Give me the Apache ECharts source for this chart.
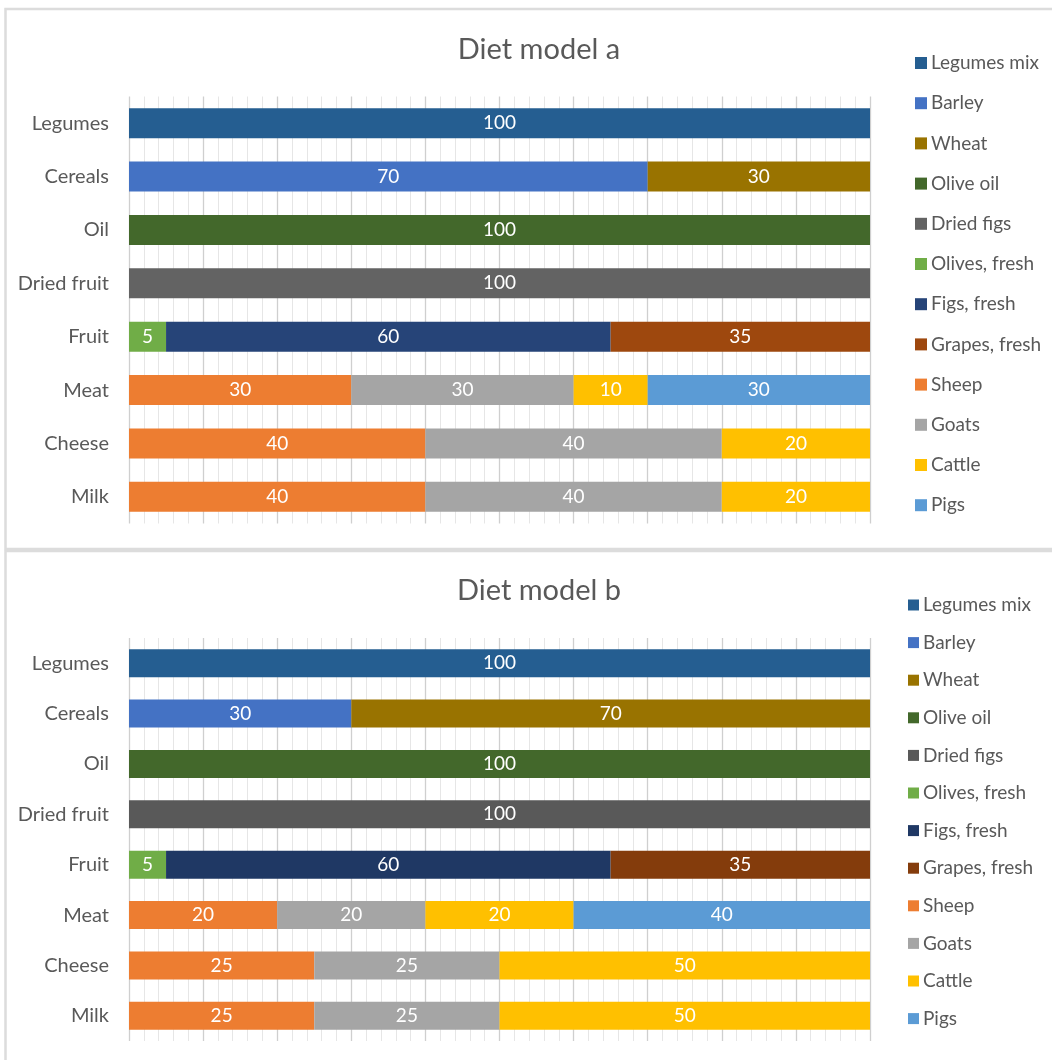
<!DOCTYPE html>
<html>
<head>
<meta charset="utf-8">
<script src="https://cdn.jsdelivr.net/npm/echarts@6/dist/echarts.min.js"></script>
<style>html,body{margin:0;padding:0;background:#fff;}#c{width:1052px;height:1060px;}</style>
</head>
<body>
<div id="c"></div>
<script>
const categories = ['Legumes', 'Cereals', 'Oil', 'Dried fruit', 'Fruit', 'Meat', 'Cheese', 'Milk'];
const seriesNames = ['Legumes mix', 'Barley', 'Wheat', 'Olive oil', 'Dried figs', 'Olives, fresh', 'Figs, fresh', 'Grapes, fresh', 'Sheep', 'Goats', 'Cattle', 'Pigs'];
const titles = ['Diet model a', 'Diet model b'];

// Diet model a: one array per series, values per category
const aLegumesMix = [100, null, null, null, null, null, null, null];
const aBarley     = [null, 70, null, null, null, null, null, null];
const aWheat      = [null, 30, null, null, null, null, null, null];
const aOliveOil   = [null, null, 100, null, null, null, null, null];
const aDriedFigs  = [null, null, null, 100, null, null, null, null];
const aOlives     = [null, null, null, null, 5, null, null, null];
const aFigs       = [null, null, null, null, 60, null, null, null];
const aGrapes     = [null, null, null, null, 35, null, null, null];
const aSheep      = [null, null, null, null, null, 30, 40, 40];
const aGoats      = [null, null, null, null, null, 30, 40, 40];
const aCattle     = [null, null, null, null, null, 10, 20, 20];
const aPigs       = [null, null, null, null, null, 30, null, null];

// Diet model b
const bLegumesMix = [100, null, null, null, null, null, null, null];
const bBarley     = [null, 30, null, null, null, null, null, null];
const bWheat      = [null, 70, null, null, null, null, null, null];
const bOliveOil   = [null, null, 100, null, null, null, null, null];
const bDriedFigs  = [null, null, null, 100, null, null, null, null];
const bOlives     = [null, null, null, null, 5, null, null, null];
const bFigs       = [null, null, null, null, 60, null, null, null];
const bGrapes     = [null, null, null, null, 35, null, null, null];
const bSheep      = [null, null, null, null, null, 20, 25, 25];
const bGoats      = [null, null, null, null, null, 20, 25, 25];
const bCattle     = [null, null, null, null, null, 20, 50, 50];
const bPigs       = [null, null, null, null, null, 40, null, null];

const aData = [aLegumesMix, aBarley, aWheat, aOliveOil, aDriedFigs, aOlives, aFigs, aGrapes, aSheep, aGoats, aCattle, aPigs];
const bData = [bLegumesMix, bBarley, bWheat, bOliveOil, bDriedFigs, bOlives, bFigs, bGrapes, bSheep, bGoats, bCattle, bPigs];

const colorsA = ['#255E91', '#4472C4', '#997300', '#43682B', '#636363', '#70AD47', '#264478', '#9E480E', '#ED7D31', '#A5A5A5', '#FFC000', '#5B9BD5'];
const colorsB = ['#255E91', '#4472C4', '#997300', '#43682B', '#595959', '#70AD47', '#1F3864', '#843C0C', '#ED7D31', '#A5A5A5', '#FFC000', '#5B9BD5'];

const FONT = 'Lato';
const TXT = '#595959';

function makeSeries(data, colors, idx, barW) {
  return data.map((vals, i) => ({
    name: seriesNames[i],
    type: 'bar',
    stack: 'total' + idx,
    xAxisIndex: idx,
    yAxisIndex: idx,
    barWidth: barW,
    data: vals,
    itemStyle: { color: colors[i] },
    label: {
      show: true,
      position: 'inside',
      color: '#ffffff',
      fontFamily: FONT,
      fontSize: 19,
      formatter: p => (p.value == null ? '' : String(p.value))
    },
    emphasis: { disabled: true },
    animation: false
  }));
}

function xAxis(idx) {
  return {
    gridIndex: idx,
    type: 'value',
    min: 0, max: 100, interval: 10,
    axisLabel: { show: false },
    axisLine: { show: false },
    axisTick: { show: false },
    splitLine: { show: true, lineStyle: { color: '#cfcfcf', width: 1.3 } },
    minorTick: { show: false, splitNumber: 5 },
    minorSplitLine: { show: true, lineStyle: { color: '#e6e6e6', width: 1 } }
  };
}
function yAxis(idx) {
  return {
    gridIndex: idx,
    type: 'category',
    data: categories,
    inverse: true,
    axisLine: { show: false },
    axisTick: { show: false },
    axisLabel: { color: TXT, fontFamily: FONT, fontSize: 20, margin: 20 }
  };
}
function legend(idx, colors, top, left, gap, icon) {
  return {
    orient: 'vertical',
    left: left, top: top,
    itemWidth: icon, itemHeight: icon,
    itemGap: gap,
    icon: 'rect',
    data: seriesNames.map((n, i) => ({ name: n, itemStyle: { color: colors[i] } })),
    textStyle: { color: TXT, fontFamily: FONT, fontSize: 19, lineHeight: 20, padding: [0, 0, 0, -1] },
    selectedMode: false
  };
}

const chart = echarts.init(document.getElementById('c'));
chart.setOption({
  backgroundColor: '#ffffff',
  animation: false,
  title: [
    { text: titles[0], left: 534, top: 30, textAlign: 'center', textStyle: { color: TXT, fontFamily: FONT, fontSize: 29, fontWeight: 'normal' } },
    { text: titles[1], left: 534, top: 571, textAlign: 'center', textStyle: { color: TXT, fontFamily: FONT, fontSize: 29, fontWeight: 'normal' } }
  ],
  legend: [
    legend(0, colorsA, 48, 910, 20.2, 12),
    legend(1, colorsB, 590, 903, 17.6, 11)
  ],
  grid: [
    { left: 129, width: 741, top: 96.5, height: 427, containLabel: false },
    { left: 129, width: 741, top: 638, height: 403, containLabel: false }
  ],
  xAxis: [xAxis(0), xAxis(1)],
  yAxis: [yAxis(0), yAxis(1)],
  series: makeSeries(aData, colorsA, 0, 30).concat(makeSeries(bData, colorsB, 1, 28)),
  graphic: [
    { type: 'rect', silent: true, z: 100, shape: { x: 5.5, y: 9, width: 1100, height: 540 }, style: { fill: 'none', stroke: '#dcdcdc', lineWidth: 2.5 } },
    { type: 'rect', silent: true, z: 100, shape: { x: 5.5, y: 551, width: 1100, height: 600 }, style: { fill: 'none', stroke: '#dcdcdc', lineWidth: 2.5 } }
  ]
});
</script>
</body>
</html>
